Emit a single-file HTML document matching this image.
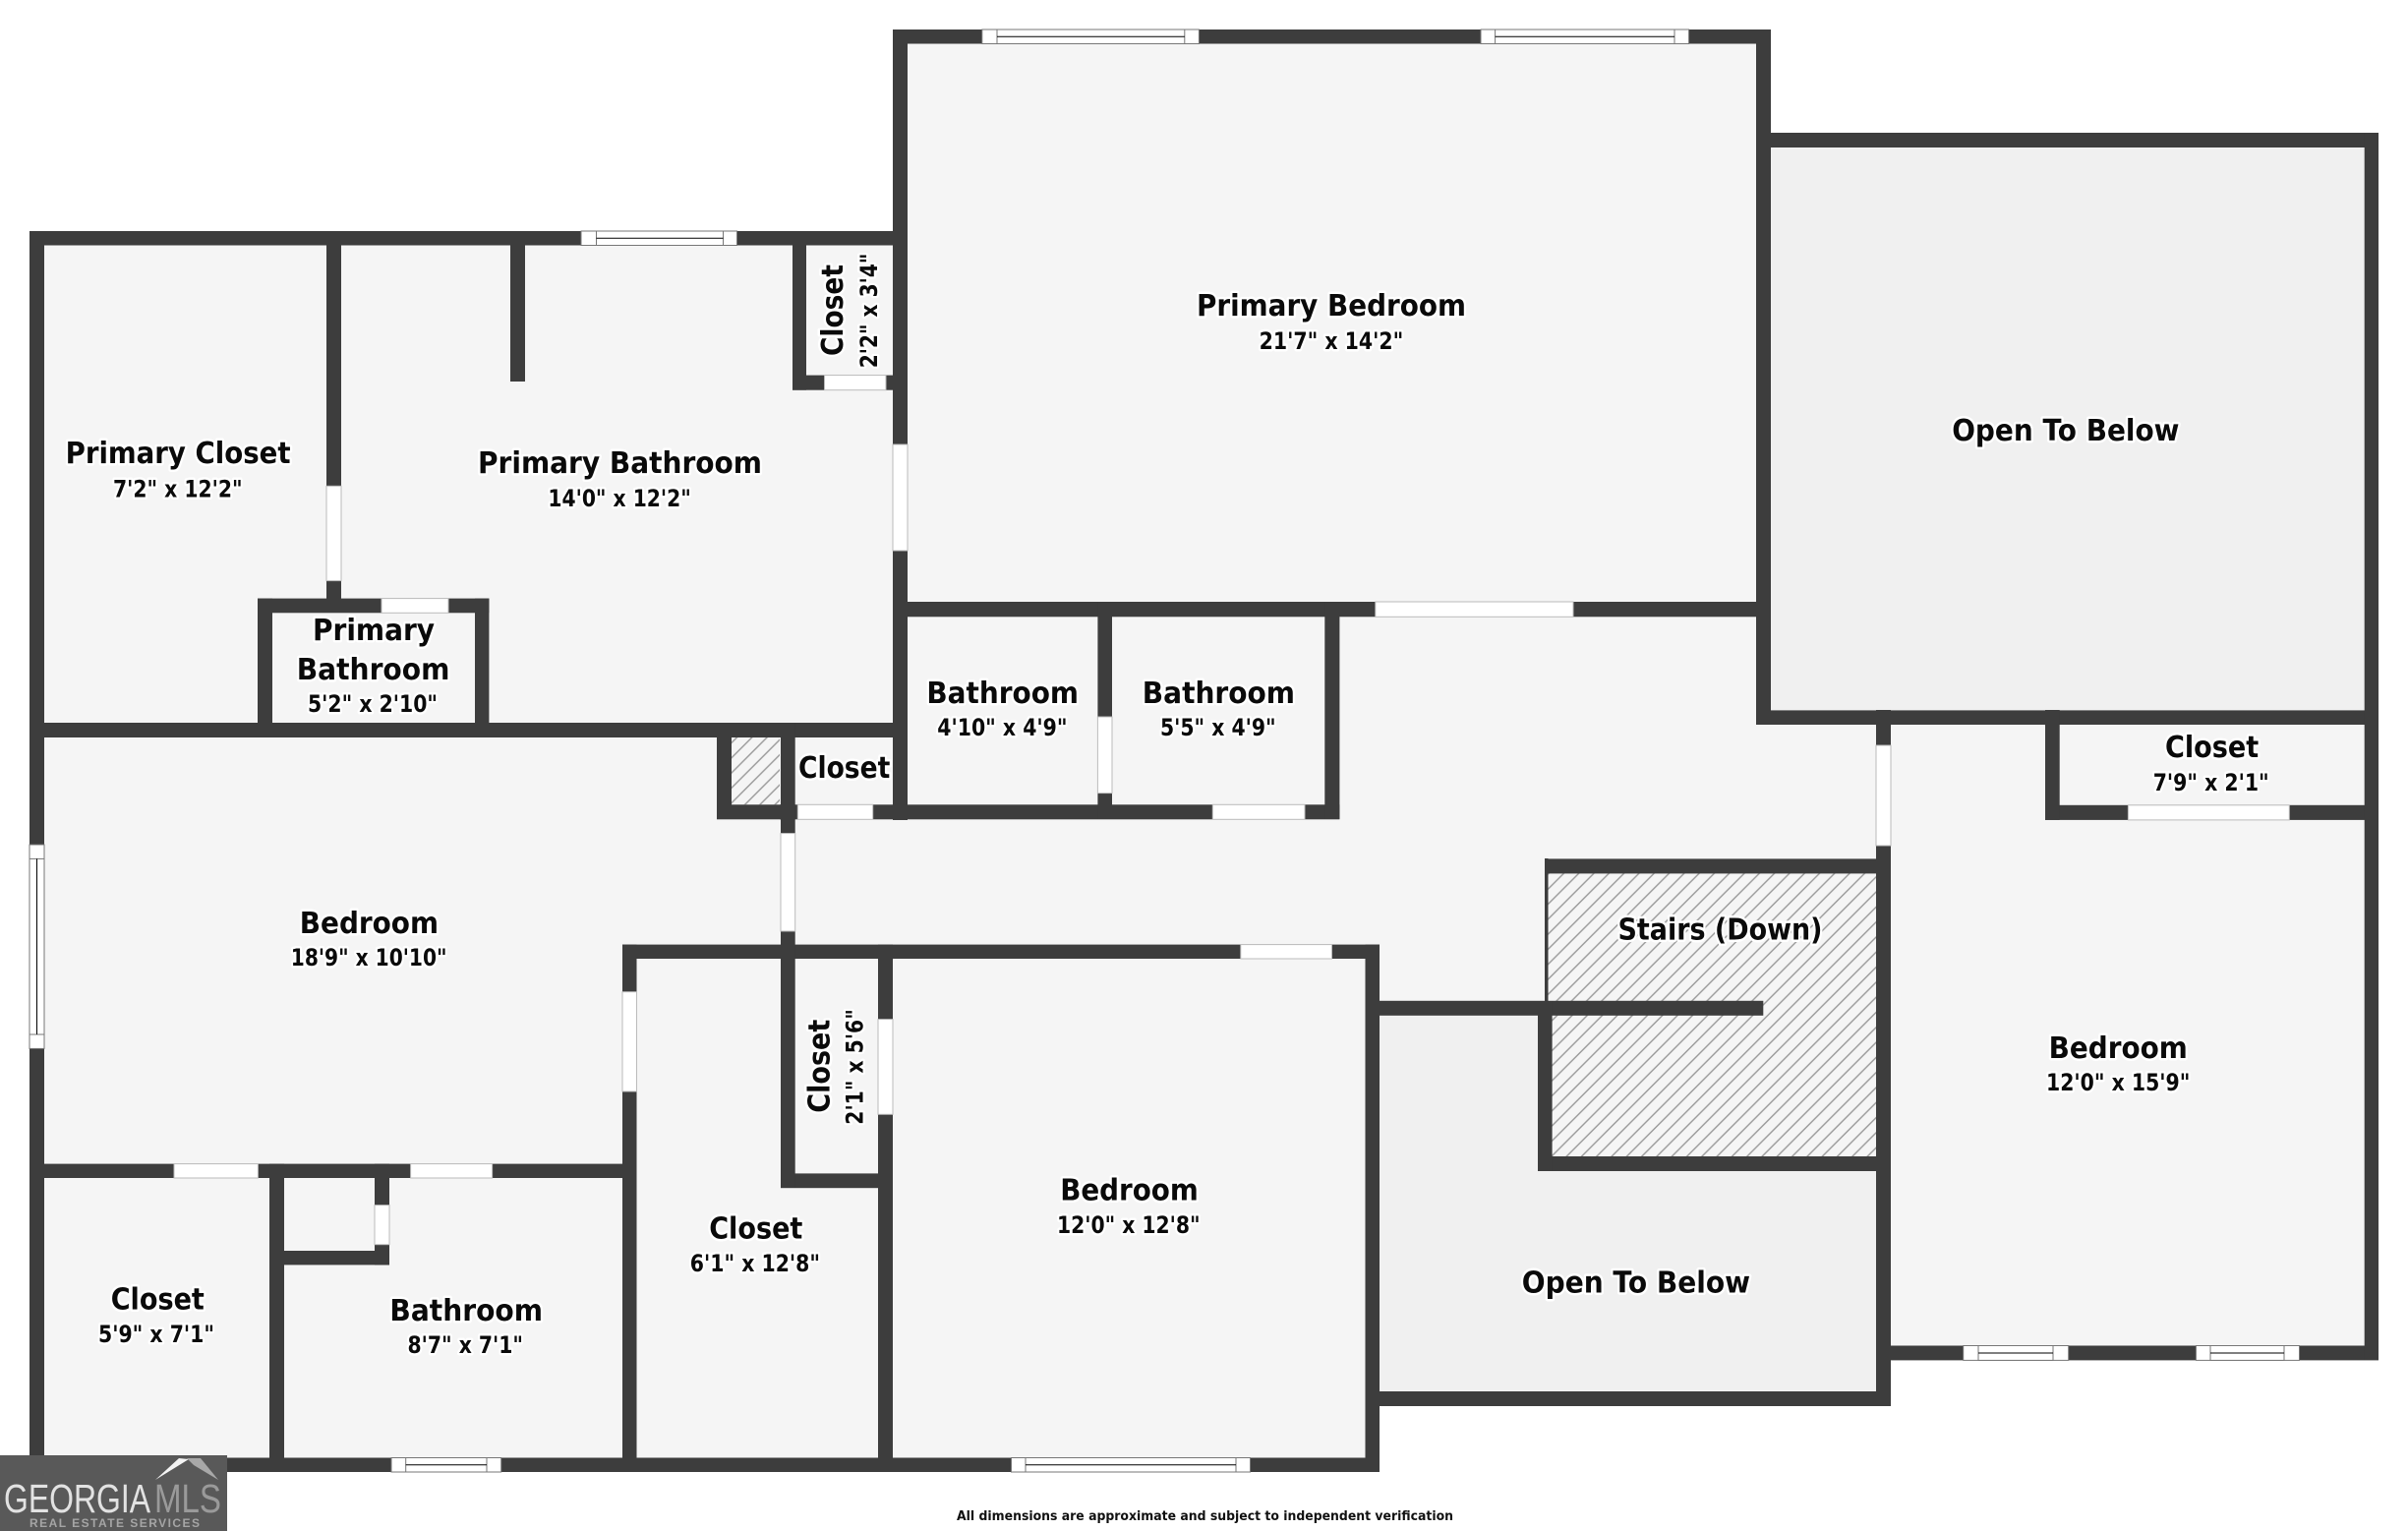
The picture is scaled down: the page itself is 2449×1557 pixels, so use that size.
<!DOCTYPE html>
<html><head><meta charset="utf-8"><title>Floor plan</title>
<style>
html,body{margin:0;padding:0;background:#fff}
svg{display:block}
.t,.d,.f{font-family:"DejaVu Sans","Liberation Sans",sans-serif;font-weight:700;fill:#0a0a0a;paint-order:stroke;stroke:#fff;stroke-linejoin:round}
.t{font-size:30px;stroke-width:5px}
.d{font-size:24px;stroke-width:5px}
.f{font-size:13px;stroke:none;fill:#111}
.w rect{fill:#3d3d3d}
.o rect{fill:#fff;stroke:#bbb;stroke-width:1}
.n rect{fill:#fff;stroke:#777;stroke-width:1}
.n path{stroke:#000;stroke-width:1;fill:none}
</style></head><body>
<svg xmlns="http://www.w3.org/2000/svg" width="2449" height="1557" viewBox="0 0 2449 1557">
<defs>
<pattern id="h" width="15.3" height="15.3" patternUnits="userSpaceOnUse">
<rect width="15.3" height="15.3" fill="#f5f5f5"/>
<path d="M-3.8 3.8L3.8 -3.8M0 15.3L15.3 0M11.5 19.1L19.1 11.5" stroke="#999" stroke-width="1.4"/>
</pattern>
</defs>
<rect width="2449" height="1557" fill="#fff"/>
<!-- floors -->
<g fill="#f5f5f5">
<rect x="30" y="235" width="893" height="515"/>
<rect x="908" y="30" width="893" height="720"/>
<rect x="30" y="735" width="1373" height="762"/>
<rect x="1403" y="737" width="519" height="300"/>
<rect x="1908" y="737" width="511" height="646"/>
</g>
<g fill="#f0f0f0">
<rect x="1403" y="1018" width="519" height="412"/>
<rect x="1786" y="135" width="633" height="602"/>
</g>
<rect x="1574" y="888" width="334" height="288" fill="url(#h)"/>
<rect x="744" y="750" width="49" height="68.3" fill="url(#h)"/>
<!-- walls -->
<g class="w">
<rect x="30" y="235" width="893" height="14.5"/>
<rect x="30" y="735" width="893" height="15"/>
<rect x="806" y="381.6" width="117" height="15.1"/>
<rect x="262" y="608.6" width="235.4" height="14.7"/>
<rect x="729" y="818.3" width="80" height="15"/>
<rect x="793" y="818.3" width="569.4" height="15"/>
<rect x="908" y="30" width="893" height="14.5"/>
<rect x="908" y="612" width="893" height="15.3"/>
<rect x="1786" y="135" width="633" height="15"/>
<rect x="1786" y="722.4" width="633" height="14.6"/>
<rect x="2080" y="818.8" width="339" height="15.1"/>
<rect x="633" y="960.6" width="770" height="14.4"/>
<rect x="1571" y="873.4" width="351" height="15"/>
<rect x="1403" y="1017.8" width="390.3" height="15"/>
<rect x="1564" y="1176" width="358" height="15"/>
<rect x="794" y="1193.4" width="114" height="14.8"/>
<rect x="30" y="1183.6" width="617.5" height="14.4"/>
<rect x="274" y="1272" width="122" height="14.4"/>
<rect x="30" y="1482.5" width="1373" height="14.5"/>
<rect x="1403" y="1415" width="519" height="15"/>
<rect x="1908" y="1368.5" width="511" height="14.9"/>
<rect x="30" y="235" width="15" height="1262"/>
<rect x="332" y="235" width="15" height="374"/>
<rect x="519" y="235" width="15" height="153"/>
<rect x="806" y="235" width="14" height="161.7"/>
<rect x="908" y="30" width="15" height="804"/>
<rect x="262" y="608.6" width="15" height="141.4"/>
<rect x="483" y="608.6" width="14.4" height="141.4"/>
<rect x="729" y="735" width="15" height="98"/>
<rect x="794" y="735" width="14.7" height="473"/>
<rect x="1116.4" y="612" width="14.6" height="221"/>
<rect x="1347.3" y="612" width="15.1" height="221"/>
<rect x="1786" y="30" width="15" height="707"/>
<rect x="2404.7" y="135" width="14.3" height="1248"/>
<rect x="2080" y="722" width="14.7" height="111.9"/>
<rect x="1908" y="722" width="15" height="708"/>
<rect x="1571" y="873" width="3.5" height="145"/>
<rect x="1564" y="1018" width="14.6" height="173"/>
<rect x="633" y="960.6" width="14.5" height="536.4"/>
<rect x="893" y="960.6" width="15" height="536.4"/>
<rect x="1388.5" y="960.6" width="14.5" height="536.4"/>
<rect x="274" y="1183.6" width="15" height="313.4"/>
<rect x="381" y="1183.6" width="15" height="102.8"/>
</g>
<!-- doors -->
<g class="o">
<rect x="332" y="494.3" width="15" height="96.3"/>
<rect x="908" y="452" width="15" height="108"/>
<rect x="794" y="847.5" width="14.7" height="99.5"/>
<rect x="633" y="1008.7" width="14.5" height="101.3"/>
<rect x="893" y="1036.6" width="15" height="96.7"/>
<rect x="1116.4" y="729" width="14.6" height="77.6"/>
<rect x="1908" y="758" width="15" height="102"/>
<rect x="381" y="1225.6" width="15" height="40.1"/>
<rect x="838.5" y="381.6" width="62.5" height="15.1"/>
<rect x="388" y="608.6" width="68" height="14.7"/>
<rect x="811.3" y="818.3" width="76.4" height="15"/>
<rect x="1233.3" y="818.3" width="93.7" height="15"/>
<rect x="1398.8" y="612" width="201.2" height="15.3"/>
<rect x="1261.8" y="960.6" width="92.7" height="14.4"/>
<rect x="2164.4" y="818.8" width="163.9" height="15.1"/>
<rect x="177" y="1183.6" width="85.4" height="14.4"/>
<rect x="417.6" y="1183.6" width="83" height="14.4"/>
</g>
<!-- windows -->
<g class="n">
<rect x="591" y="235" width="158.5" height="14.5"/><rect x="606.5" y="235" width="129" height="14.5"/><path d="M606.5 242.3H735.5"/>
<rect x="998.8" y="30" width="220.6" height="14.5"/><rect x="1014" y="30" width="190.8" height="14.5"/><path d="M1014 37.3H1204.8"/>
<rect x="1506" y="30" width="211.6" height="14.5"/><rect x="1520.6" y="30" width="182.4" height="14.5"/><path d="M1520.6 37.3H1703"/>
<rect x="398" y="1482.5" width="111.7" height="14.5"/><rect x="412.7" y="1482.5" width="82.3" height="14.5"/><path d="M412.7 1489.8H495"/>
<rect x="1028.5" y="1482.5" width="243" height="14.5"/><rect x="1043" y="1482.5" width="214" height="14.5"/><path d="M1043 1489.8H1257"/>
<rect x="1996.7" y="1368.5" width="107" height="14.9"/><rect x="2012" y="1368.5" width="76" height="14.9"/><path d="M2012 1376H2088"/>
<rect x="2233.4" y="1368.5" width="105.1" height="14.9"/><rect x="2248" y="1368.5" width="75" height="14.9"/><path d="M2248 1376H2323"/>
<rect x="30" y="859" width="15" height="207.4"/><rect x="30" y="873.4" width="15" height="178.6"/><path d="M37.5 873.4V1052"/>
</g>
<!-- labels -->
<text class="t" x="66.6" y="471" textLength="229" lengthAdjust="spacingAndGlyphs">Primary Closet</text>
<text class="d" x="115" y="505.5" textLength="131.6" lengthAdjust="spacingAndGlyphs">7'2" x 12'2"</text>
<text class="t" x="486" y="481" textLength="289" lengthAdjust="spacingAndGlyphs">Primary Bathroom</text>
<text class="d" x="557.4" y="515" textLength="145.4" lengthAdjust="spacingAndGlyphs">14'0" x 12'2"</text>
<text class="t" transform="translate(857 362) rotate(-90)" textLength="93" lengthAdjust="spacingAndGlyphs">Closet</text>
<text class="d" transform="translate(892 374.3) rotate(-90)" textLength="116.7" lengthAdjust="spacingAndGlyphs">2'2" x 3'4"</text>
<text class="t" x="318" y="651" textLength="124" lengthAdjust="spacingAndGlyphs">Primary</text>
<text class="t" x="301.7" y="691" textLength="155.7" lengthAdjust="spacingAndGlyphs">Bathroom</text>
<text class="d" x="313" y="724" textLength="132" lengthAdjust="spacingAndGlyphs">5'2" x 2'10"</text>
<text class="t" x="812" y="791" textLength="93.3" lengthAdjust="spacingAndGlyphs">Closet</text>
<text class="t" x="1217" y="321" textLength="274" lengthAdjust="spacingAndGlyphs">Primary Bedroom</text>
<text class="d" x="1280.6" y="355" textLength="146.7" lengthAdjust="spacingAndGlyphs">21'7" x 14'2"</text>
<text class="t" x="1985.2" y="448" textLength="231.3" lengthAdjust="spacingAndGlyphs">Open To Below</text>
<text class="t" x="2202" y="770" textLength="95.2" lengthAdjust="spacingAndGlyphs">Closet</text>
<text class="d" x="2189.7" y="803.8" textLength="118" lengthAdjust="spacingAndGlyphs">7'9" x 2'1"</text>
<text class="t" x="304.8" y="949.2" textLength="141.2" lengthAdjust="spacingAndGlyphs">Bedroom</text>
<text class="d" x="295.8" y="982" textLength="158.7" lengthAdjust="spacingAndGlyphs">18'9" x 10'10"</text>
<text class="t" x="112.7" y="1331.5" textLength="95.2" lengthAdjust="spacingAndGlyphs">Closet</text>
<text class="d" x="100" y="1365" textLength="118" lengthAdjust="spacingAndGlyphs">5'9" x 7'1"</text>
<text class="t" x="396.4" y="1342.8" textLength="155.6" lengthAdjust="spacingAndGlyphs">Bathroom</text>
<text class="d" x="414.5" y="1376" textLength="117.5" lengthAdjust="spacingAndGlyphs">8'7" x 7'1"</text>
<text class="t" x="721.2" y="1259.6" textLength="95.2" lengthAdjust="spacingAndGlyphs">Closet</text>
<text class="d" x="701.8" y="1293" textLength="132.2" lengthAdjust="spacingAndGlyphs">6'1" x 12'8"</text>
<text class="t" x="942.4" y="715" textLength="154.6" lengthAdjust="spacingAndGlyphs">Bathroom</text>
<text class="d" x="953.3" y="748" textLength="132.2" lengthAdjust="spacingAndGlyphs">4'10" x 4'9"</text>
<text class="t" x="1161.8" y="715" textLength="155.2" lengthAdjust="spacingAndGlyphs">Bathroom</text>
<text class="d" x="1180" y="748" textLength="117.6" lengthAdjust="spacingAndGlyphs">5'5" x 4'9"</text>
<text class="t" transform="translate(843.6 1131.7) rotate(-90)" textLength="95" lengthAdjust="spacingAndGlyphs">Closet</text>
<text class="d" transform="translate(877.6 1143.7) rotate(-90)" textLength="117.5" lengthAdjust="spacingAndGlyphs">2'1" x 5'6"</text>
<text class="t" x="1078.2" y="1220.5" textLength="140.6" lengthAdjust="spacingAndGlyphs">Bedroom</text>
<text class="d" x="1075" y="1254" textLength="145.6" lengthAdjust="spacingAndGlyphs">12'0" x 12'8"</text>
<text class="t" x="1645.5" y="955.6" textLength="208" lengthAdjust="spacingAndGlyphs">Stairs (Down)</text>
<text class="t" x="2083.6" y="1076" textLength="141.2" lengthAdjust="spacingAndGlyphs">Bedroom</text>
<text class="d" x="2081" y="1109" textLength="146.4" lengthAdjust="spacingAndGlyphs">12'0" x 15'9"</text>
<text class="t" x="1547.8" y="1314.5" textLength="232.2" lengthAdjust="spacingAndGlyphs">Open To Below</text>
<text class="f" x="979" y="1546" textLength="505" lengthAdjust="spacingAndGlyphs" style="font-size:13.5px" transform="translate(-6 0)">All dimensions are approximate and subject to independent verification</text>
<!-- logo -->
<rect x="0" y="1480" width="231" height="77" fill="#595959"/>
<polygon points="158,1505 182,1483 192,1484" fill="#f4f4f4"/>
<polygon points="190,1483 204,1483 222,1505 197,1490" fill="#a8a8a8"/>
<text x="4" y="1538" font-family="Liberation Sans, sans-serif" font-size="41" fill="#e2e2e2" textLength="149" lengthAdjust="spacingAndGlyphs">GEORGIA</text>
<text x="157" y="1538" font-family="Liberation Sans, sans-serif" font-size="41" fill="#9a9a9a" textLength="68" lengthAdjust="spacingAndGlyphs">MLS</text>
<text x="30" y="1553" font-family="Liberation Sans, sans-serif" font-weight="700" font-size="12" fill="#a5a5a5" textLength="173">REAL ESTATE SERVICES</text>
</svg>
</body></html>
